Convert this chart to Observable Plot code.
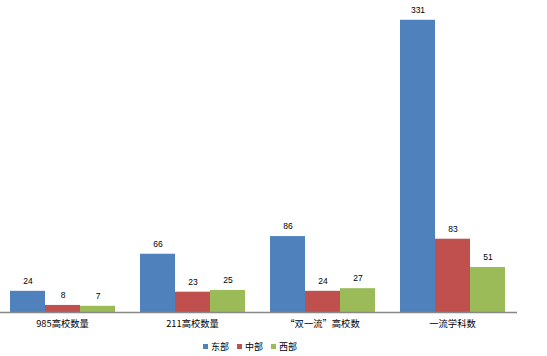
<!DOCTYPE html>
<html><head><meta charset="utf-8">
<script src="https://cdn.jsdelivr.net/npm/d3@7"></script>
<script src="https://cdn.jsdelivr.net/npm/@observablehq/plot@0.6"></script>
<style>
body{margin:0;background:#fff;font-family:"Liberation Sans","Noto Sans CJK SC",sans-serif;}
#wrap{position:relative;width:547px;height:356px;}
#legend{position:absolute;left:203px;top:340px;display:flex;align-items:center;font-size:9px;color:#000;font-family:"Noto Sans CJK SC",sans-serif;}
#legend span.sw{display:inline-block;width:5px;height:5px;margin-right:3px;}
#legend span.lb{margin-right:8px;}
</style></head><body>
<div id="wrap"><div id="chart"></div><div id="legend"></div></div>
<script>
const categories = ["985高校数量","211高校数量","“双一流”高校数","一流学科数"];
const series = ["东部","中部","西部"];
const colors = ["#4F81BD","#C0504D","#9BBB59"];
const east = [24,66,86,331];
const central = [8,23,24,83];
const west = [7,25,27,51];

const vals = [east, central, west];
const data = [];
categories.forEach((c,i)=>series.forEach((s,j)=>data.push({cat:c, ser:s, v:vals[j][i]})));

const plot = Plot.plot({
  width:547, height:334,
  marginLeft:-4, marginRight:30, marginTop:3, marginBottom:22,
  style:{fontFamily:'"Noto Sans CJK SC",sans-serif', fontSize:"9.3px", color:"#000"},
  fx:{domain:categories, padding:0, label:null, axis:"bottom", tickSize:0, tickPadding:8},
  x:{domain:series, paddingInner:0, paddingOuter:0.33, axis:null},
  y:{domain:[0,350], axis:null},
  color:{domain:series, range:colors},
  marks:[
    Plot.barY(data,{fx:"cat", x:"ser", y:"v", fill:"ser"}),
    Plot.text(data,{fx:"cat", x:"ser", y:"v", text:d=>String(d.v), dy:-10, fontSize:8.5, fill:"#000", fontFamily:'"Liberation Sans",sans-serif'}),
    Plot.ruleY([0],{stroke:"#888", strokeWidth:1.5})
  ]
});
document.getElementById("chart").appendChild(plot);
const lg = document.getElementById("legend");
series.forEach((s,i)=>{
  const sw=document.createElement("span"); sw.className="sw"; sw.style.background=colors[i]; lg.appendChild(sw);
  const lb=document.createElement("span"); lb.className="lb"; lb.textContent=s; lg.appendChild(lb);
});
</script></body></html>
